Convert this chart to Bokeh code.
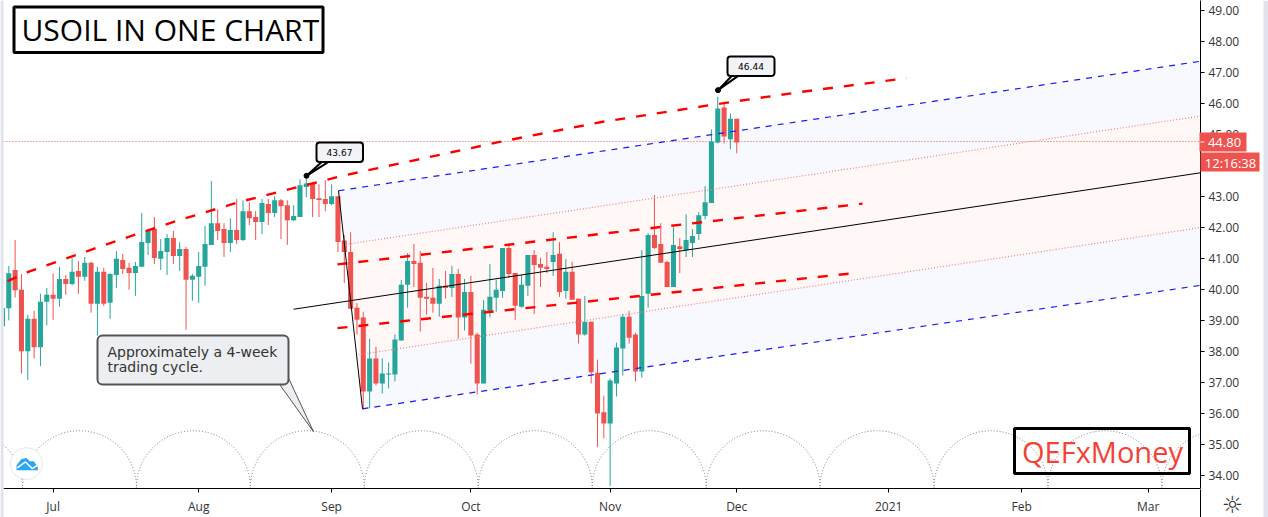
from bokeh.plotting import figure
from bokeh.embed import file_html
from bokeh.resources import INLINE
from bokeh.layouts import column, row
from bokeh.core.properties import value
from bokeh.models import BoxAnnotation, Label, FixedTicker, Range1d

# ---- chart data: daily candles, prices
directions = ("G" "GRRGRGGRGR" "GRGRGRGGRR" "GGGRGGRGRG" "GGGRRGRGRR" "GRGRRGGGRRRGR"
              "RRRRGRGGGG" "GRRRRGRGRG" "RRGGGGRRGG" "RRRGRGRRGR"
              "RRGGGRRGGR" "RRGRGGGGGGRGR")
highs = [39.67,
    40.76,41.60,40.50,39.18,39.31,39.86,40.05,40.52,40.73,40.47,
    41.01,40.92,41.05,40.89,40.73,40.70,40.53,41.24,41.15,40.86,
    40.89,42.47,41.96,42.34,41.63,41.79,41.89,41.53,41.37,40.50,
    41.21,42.05,43.50,42.59,42.14,42.30,42.92,42.88,42.82,42.53,
    42.92,42.92,43.01,42.92,42.88,42.72,43.56,43.58,43.46,43.40,43.53,43.40,43.01,
    41.76,41.85,39.56,39.28,38.41,38.15,37.77,37.64,38.54,40.31,
    41.17,41.47,41.24,40.21,40.70,40.34,40.60,40.76,40.66,40.34,
    40.44,38.60,39.66,40.82,40.31,41.34,41.44,40.53,40.47,41.11,
    41.27,41.02,41.21,41.85,41.53,40.98,40.89,39.70,39.79,38.96,
    37.73,36.57,37.12,38.28,39.21,39.31,38.60,41.27,41.82,43.05,
    42.14,40.92,42.01,41.66,42.43,41.95,42.50,43.34,45.17,46.23,46.07,45.69,45.52]
body_tops = [39.40,
    40.52,40.63,39.99,39.05,39.05,39.60,39.83,39.83,40.34,40.34,
    40.57,40.60,40.86,40.86,40.57,40.57,40.50,40.99,40.95,40.70,
    40.76,41.53,41.92,41.95,41.24,41.66,41.66,41.31,41.31,40.44,
    40.76,41.47,42.14,42.14,41.95,41.92,41.92,42.53,42.53,42.34,
    42.79,42.76,42.88,42.88,42.72,42.37,43.37,43.42,43.43,42.95,42.92,43.01,43.01,
    41.58,41.21,39.41,39.09,37.77,37.77,37.28,37.28,38.38,40.15,
    40.92,40.92,40.86,39.76,39.73,40.12,40.12,40.50,40.50,39.92,
    39.92,38.54,39.34,39.76,39.99,41.34,41.34,40.53,40.15,41.11,
    41.11,40.82,40.73,41.11,41.15,40.57,40.57,39.70,38.96,38.96,
    37.31,36.03,37.06,38.12,39.12,39.12,38.54,39.79,41.76,41.76,
    41.47,40.89,41.44,41.40,41.60,41.73,42.40,42.82,44.78,45.85,45.88,45.52,45.52]
body_bottoms = [38.81,
    39.39,39.97,38.00,38.00,38.13,38.13,39.60,39.70,39.70,40.18,
    40.18,40.41,40.41,39.54,39.54,39.54,39.57,40.47,40.66,40.53,
    40.53,40.73,41.50,41.02,40.99,41.21,41.08,41.08,40.31,40.31,
    40.41,40.73,41.44,41.89,41.50,41.50,41.60,41.60,42.30,42.18,
    42.18,42.47,42.47,42.69,42.24,42.24,42.34,43.31,42.92,42.89,42.76,42.76,41.53,
    41.21,39.38,39.02,36.70,36.70,36.96,36.96,37.25,37.25,38.35,
    40.15,40.82,39.73,39.70,39.54,39.54,40.05,40.05,39.09,39.09,
    38.51,36.96,36.96,39.28,39.73,39.95,40.50,39.47,39.44,40.12,
    40.79,40.70,40.66,40.89,39.92,39.95,39.67,38.54,38.54,37.32,
    35.99,35.67,35.67,36.96,38.09,38.44,37.35,37.35,39.86,41.34,
    40.86,40.08,40.08,41.31,41.27,41.50,41.79,42.37,42.79,44.75,44.94,44.85,44.75]
lows = [38.76,
    39.00,39.74,37.28,37.07,37.77,37.52,38.84,39.02,39.44,39.83,
    40.13,39.86,40.28,39.25,38.51,39.47,39.05,40.05,40.50,39.99,
    39.79,40.73,41.11,40.82,40.63,40.47,40.82,40.60,38.70,39.63,
    39.57,40.12,41.44,41.60,41.05,41.21,41.47,41.56,42.08,41.60,
    41.79,42.08,42.34,41.63,41.44,42.21,42.34,42.98,42.34,42.34,42.53,42.72,41.21,
    40.21,39.38,38.54,36.12,36.16,36.90,36.64,36.80,37.03,38.35,
    39.41,40.08,38.64,39.18,39.25,39.12,39.70,39.76,38.41,38.67,
    37.60,36.61,36.96,39.09,39.28,39.73,40.37,39.02,39.41,39.79,
    39.21,40.08,40.53,40.44,39.76,39.70,39.67,38.25,38.51,36.96,
    34.90,35.19,33.65,36.54,37.22,38.25,37.03,37.15,39.41,41.31,
    40.86,40.08,40.08,40.53,41.05,41.05,41.60,42.27,42.79,44.72,44.72,44.53,44.40]

price_ticks = [34,35,36,37,38,39,40,41,42,43,44,45,46,47,48,49]
date_ticks = [8,31,52,74,96,116,140,161,181]
date_labels = ["Jul","Aug","Sep","Oct","Nov","Dec","2021","Feb","Mar"]
cycle_centers = [-5.83,12.17,30.17,48.17,66.17,84.17,102.17,120.17,138.17,156.17,174.17,192.17]
last_price = 44.78

UP, DOWN = "#26a69a", "#ef5350"
LAV = "#e0e3eb"

# reference pixel -> data helpers for the hand-drawn annotations
def X(px): return (px - 1.97) / 6.33
def Y(py): return 49 - (py - 10.5) / 31.07
def XS(a): return [X(v) for v in a]
def YS(a): return [Y(v) for v in a]

p = figure(width=1268, height=517, output_backend="svg", toolbar_location=None,
           x_range=Range1d(X(3), X(1200)), y_range=Range1d(Y(490), Y(0)),
           min_border_left=3, min_border_right=68, min_border_top=0, min_border_bottom=27,
           x_axis_location="below", y_axis_location="right",
           border_fill_color="white", background_fill_color="white")
p.outline_line_color = None
p.grid.visible = False

xa, ya = p.xaxis[0], p.yaxis[0]
for a in (xa, ya):
    a.axis_line_color = "black"; a.axis_line_width = 1
    a.major_tick_line_color = "black"; a.major_tick_out = 4; a.major_tick_in = 0
    a.minor_tick_line_color = None
    a.major_label_text_font = "Open Sans"; a.major_label_text_font_size = "12px"
    a.major_label_text_color = "#333333"
xa.ticker = FixedTicker(ticks=date_ticks)
xa.major_label_overrides = dict(zip(date_ticks, date_labels))
xa.major_label_standoff = 5
ya.ticker = FixedTicker(ticks=price_ticks)
ya.major_label_overrides = {t: f"{t}.00" for t in price_ticks}
ya.major_label_standoff = 4

# channel bands (pitchfork)
BLUE_BAND, RED_BAND = "#f7f9ff", "#fff8f7"
up_x, up_y = XS([338, 1200]), YS([191, 61])
uin_x, uin_y = XS([345, 1200]), YS([245, 116])
lin_x, lin_y = XS([358, 1200]), YS([355.7, 228])
lo_x, lo_y = XS([362, 1200]), YS([410, 286])
p.patch(up_x + uin_x[::-1], up_y + uin_y[::-1], fill_color=BLUE_BAND, line_color=None)
p.patch(uin_x + lin_x[::-1], uin_y + lin_y[::-1], fill_color=RED_BAND, line_color=None)
p.patch(lin_x + lo_x[::-1], lin_y + lo_y[::-1], fill_color=BLUE_BAND, line_color=None)

# cycle arcs
p.ellipse(cycle_centers, [Y(489)] * len(cycle_centers), width=18, height=114 / 31.07,
          fill_color=None, line_color="#787b86", line_width=1, line_dash="1 2")

# last price line
p.line([X(3), X(1200)], [last_price, last_price], line_color=DOWN, line_width=1, line_dash="1 2")

# candles
idx = list(range(len(highs)))
cols = [UP if d == "G" else DOWN for d in directions]
p.segment(idx, lows, idx, highs, line_color=cols, line_width=1)
p.vbar(idx, width=0.8, top=body_tops, bottom=body_bottoms, fill_color=cols, line_color=None)

# pale tail of the long wick
p.segment([97], [Y(447)], [97], [Y(487)], line_color="white", line_alpha=0.5, line_width=1)

# drawn trend lines
p.line(XS([7, 29, 117, 177, 240, 283, 342, 499, 601, 710, 799, 906]),
       YS([281.7, 272, 241, 221, 202, 191, 176, 142, 122, 105, 92, 78]),
       line_color="#ff0000", line_width=2.4, line_dash="10 11")
p.line(XS([337, 862]), YS([265, 204]), line_color="#ff0000", line_width=2.4, line_dash="10 11")
p.line(XS([337, 851]), YS([329, 274]), line_color="#ff0000", line_width=2.4, line_dash="10 11")
p.line(up_x, up_y, line_color="#1a1aee", line_width=1.2, line_dash="6 6")
p.line(lo_x, lo_y, line_color="#1a1aee", line_width=1.2, line_dash="6 6")
p.line(uin_x, uin_y, line_color="#f08080", line_width=1.2, line_dash="1 2")
p.line(lin_x, lin_y, line_color="#f08080", line_width=1.2, line_dash="1 2")
p.line(XS([293, 1200]), YS([310, 173]), line_color="black", line_width=1)
p.line(XS([338, 362]), YS([191, 410]), line_color="black", line_width=1)

# annotation helpers, in canvas pixels
def box(l, t, r, b, fill, line=None, lw=1, radius=0):
    p.add_layout(BoxAnnotation(left=l, right=r, top=t, bottom=b,
                               left_units="canvas", right_units="canvas", top_units="canvas", bottom_units="canvas",
                               fill_color=fill, fill_alpha=1 if fill else 0,
                               line_color=line, line_width=lw, line_alpha=1, border_radius=radius))

def text(px, py, s, size, color="black", font="DejaVu Sans", align="left", style="normal"):
    p.add_layout(Label(x=px, y=py, x_units="canvas", y_units="canvas", text=s, text_font=font,
                       text_font_size=f"{size}px", text_color=color,
                       text_align=align, text_baseline="middle", text_font_style=style))

# title box
box(13.5, 6.5, 322.5, 52, "white", "black", 3)
text(21, 28.5, "USOIL IN ONE CHART", 30, font="Open Sans")

# watermark box
box(1014, 428, 1189, 473, None, "black", 3)
text(1102, 451, "QEFxMoney", 29, "#f44336", font="Open Sans", align="center")

# note callouts
def callout(tx, ty, bx1, bx2, by, fill="white", line="black", lw=2):
    p.patch(XS([bx1, tx, bx2]), YS([by, ty, by]), fill_color=fill, line_color=line, line_width=lw)

callout(306, 176, 321.5, 328, 162)
p.scatter([X(306)], [Y(176)], size=5, fill_color="black", line_color="black")
box(316, 142, 362.5, 161.5, "#f1f3f6", "black", 2, 3)
text(339, 152, "43.67", 9, align="center")

callout(717.5, 90, 731.5, 738, 75.5)
p.scatter([X(717.5)], [Y(90)], size=5, fill_color="black", line_color="black")
box(727, 56, 774, 75.5, "#f1f3f6", "black", 2, 3)
text(750.5, 65.5, "46.44", 9, align="center")

p.patch(XS([278, 313, 287.5]), YS([384, 433, 378]), fill_color="#eceef2", line_color="#555555", line_width=1)
box(97, 335, 288, 384, "#eceef2", "#555555", 2, 5)
text(107, 351, "Approximately a 4-week", 14, "#333333")
text(107, 366, "trading cycle.", 14, "#333333")

# logo
p.circle([X(26)], [Y(465)], radius=16 / 6.33, fill_color="white", line_color="#e6e8ee", line_width=1)
p.patch(XS([16, 20.7, 26, 29.3, 33.3, 37.3, 37.3, 16]), YS([466.7, 460.7, 459.3, 462.7, 462.7, 468.3, 471.7, 471.7]),
        fill_color="#2ca5f5", line_color=None)
p.line(XS([16.7, 25, 31.7, 36.7]), YS([469.3, 463.3, 470, 466.7]), line_color="white", line_width=1.5)

# transparent layer over the whole page for what sits outside the plot frame:
# page strips, the axis line down to the edge, price tags, settings icon
q = figure(width=1268, height=517, output_backend="svg", toolbar_location=None,
           x_range=Range1d(0, 1268), y_range=Range1d(517, 0),
           x_axis_type=None, y_axis_type=None,
           min_border_left=0, min_border_right=0, min_border_top=0, min_border_bottom=0,
           background_fill_alpha=0, border_fill_alpha=0)
q.outline_line_color = None
q.grid.visible = False
q.quad(left=[0, 1263, 1199.5, 1199, 1200], right=[3, 1268, 1200.5, 1246, 1259],
       top=[0, 0, 489, 132, 152], bottom=[517, 517, 517, 151, 171],
       fill_color=[LAV, LAV, "black", DOWN, DOWN], line_color=None)
q.segment([1200], [141.5], [1204], [141.5], line_color="white", line_width=1)
q.text([1224, 1230], [142, 162], text=["44.80", "12:16:38"], text_color="white",
       text_font=value("Open Sans"), text_font_size="13px", text_font_style="normal",
       text_align="center", text_baseline="middle")
q.text([1232], [504], text=["\u263c"], text_color="#333333", text_font=value("DejaVu Sans"),
       text_font_size="24px", text_align="center", text_baseline="middle")

layer = row(q, margin=(-517, 0, 0, 0))
open("out.html", "w").write(file_html(column(p, layer), INLINE))
